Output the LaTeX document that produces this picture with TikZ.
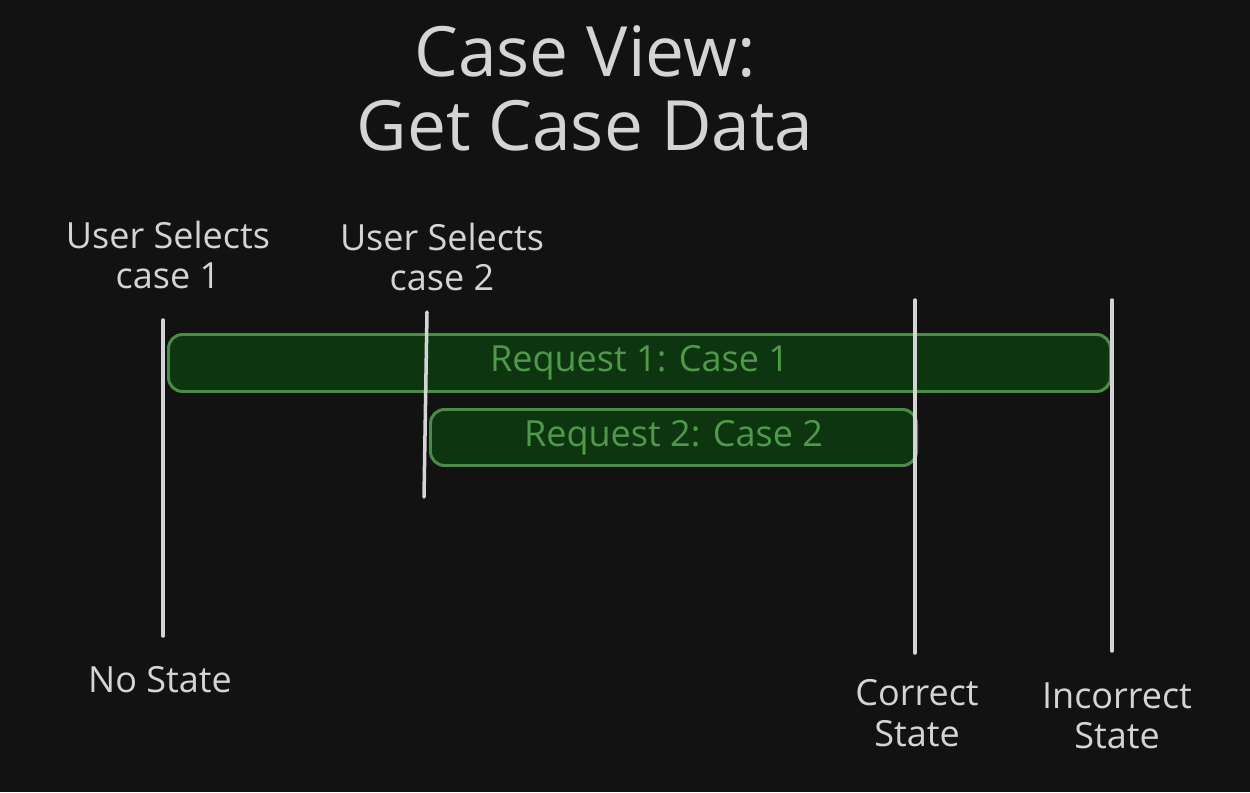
\documentclass[tikz,border=0pt]{standalone}
\usepackage{fontspec}
\setmainfont{Open Sans}
\usepackage{tikz}
\usetikzlibrary{positioning, backgrounds}

\definecolor{bgdark}{HTML}{121212}
\definecolor{chalk}{HTML}{D4D4D4}
\definecolor{barfill}{HTML}{0D3510}
\definecolor{barline}{HTML}{4A8C46}
\definecolor{bartext}{HTML}{4E9A48}

\begin{document}
\begin{tikzpicture}[x=0.02cm, y=-0.02cm]
\tikzstyle{marker}=[draw=chalk, line width=2pt, line cap=round]
\tikzstyle{request}=[draw=barline, fill=barfill, line width=1.7pt, rounded corners=8pt, text=bartext, font=\fontsize{20.5}{24}\selectfont, inner sep=0pt, anchor=north west]
\tikzstyle{event}=[text=chalk, align=center, font=\fontsize{20.5}{23}\selectfont, inner sep=0pt]

\fill[bgdark] (0,0) rectangle (1250,792);
\useasboundingbox (0,0) rectangle (1250,792);

% title
\node (title) [text=chalk, align=center, font=\fontsize{39.5}{42}\selectfont, inner sep=0pt] at (585,88) {Case View:\\Get Case Data};

% time markers
\coordinate (m1top) at (163,320);  \coordinate (m1bot) at (163,636);
\coordinate (m2top) at (427,312);  \coordinate (m2bot) at (424,497);
\coordinate (m3top) at (915,300);  \coordinate (m3bot) at (915,653);
\coordinate (m4top) at (1112,300); \coordinate (m4bot) at (1112,651);

% requests
\node (req1) [request, minimum width=942*0.02cm, minimum height=57*0.02cm] at (167,333) {Request 1: Case 1};
\node (req2) [request, minimum width=486*0.02cm, minimum height=56*0.02cm] at (429,408) {Request 2: Case 2};

\draw [marker] (m1top) -- (m1bot);
\draw [marker] (m2top) -- (m2bot);
\draw [marker] (m3top) -- (m3bot);
\draw [marker] (m4top) -- (m4bot);

% labels
\node (sel1) [event] at (168,255) {User Selects\\case 1};
\node (sel2) [event] at (442,257) {User Selects\\case 2};
\node (nostate) [event] at (160,680) {No State};
\node (correct) [event] at (917,713) {Correct\\State};
\node (incorrect) [event] at (1117,716) {Incorrect\\State};

\end{tikzpicture}
\end{document}
